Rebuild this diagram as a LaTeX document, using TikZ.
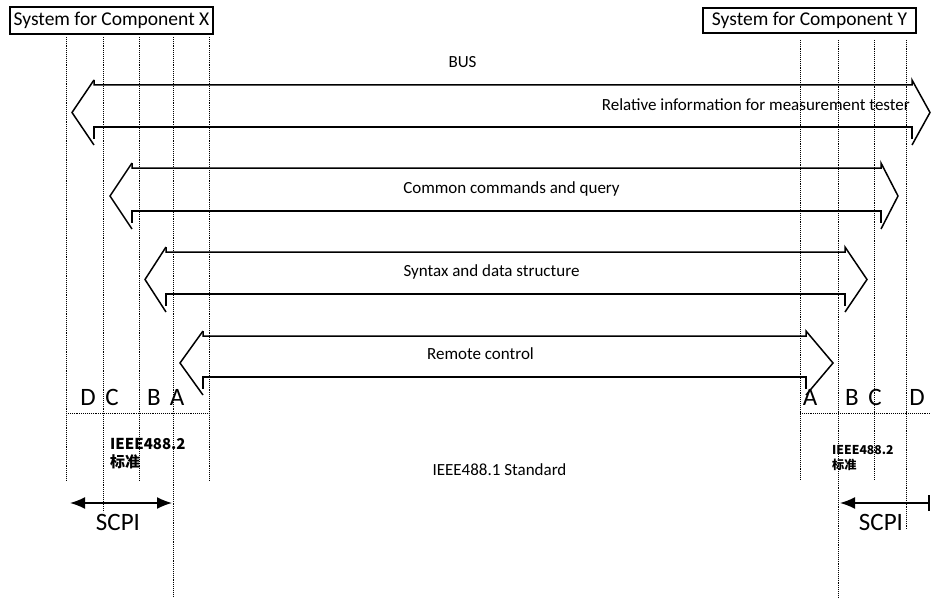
\documentclass[tikz,border=0pt]{standalone}
\usepackage{fontspec}
\setmainfont{Carlito}
\newfontfamily\cjk{Noto Sans CJK SC}
\usetikzlibrary{arrows.meta}
\newcommand\blockarrow[6]{% L R yt yb xl xr
  \pgfmathsetmacro\baHt{#3-5}\pgfmathsetmacro\baHb{#4+18}\pgfmathsetmacro\baTy{(#3-5+#4+18)/2}\pgfmathsetmacro\baVb{#4+12}
  \draw[barrow] (#1,\baHt) -- (#1,#3) -- (#2,#3) -- (#2,\baHt) -- (#6,\baTy) -- (#2,\baHb);
  \draw[barrow] (#2,\baVb) -- (#2,#4) -- (#1,#4) -- (#1,\baVb);
  \draw[barrow] (#1,\baHb) -- (#5,\baTy) -- (#1,\baHt);
}
\begin{document}
\begin{tikzpicture}[x=1pt,y=-1pt,
  guide/.style={densely dotted, line width=0.9pt},
  barrow/.style={line width=1.5pt, line join=miter},
  lbl/.style={font=\fontsize{17}{20}\selectfont, inner sep=0, anchor=base},
  letter/.style={font=\fontsize{25}{28}\selectfont, inner sep=0, anchor=base},
  title/.style={draw, line width=1.5pt, inner sep=0, font=\fontsize{19.5}{22}\selectfont},
  stdl/.style={font=\cjk\bfseries\fontsize{15}{18}\selectfont, inner sep=0, align=left, anchor=north west},
  stdr/.style={font=\cjk\bfseries\fontsize{12.2}{15}\selectfont, inner sep=0, align=left, anchor=north west},
  scpi/.style={line width=1.6pt}]
\useasboundingbox (0,0) rectangle (931,599);
% title boxes
\node[title, minimum width=203pt, minimum height=27pt] (tx) at (111.5,20.5) {System for Component X};
\node[title, minimum width=213pt, minimum height=25pt] (ty) at (809.5,20.5) {System for Component Y};
% guide lines left
\draw[guide] (66,37) -- (66,480);
\draw[guide] (103,37) -- (103,512);
\draw[guide] (139,37) -- (139,480);
\draw[guide] (173,37) -- (173,597);
\draw[guide] (209,37) -- (209,480);
\draw[guide] (66,413) -- (209,413);
% guide lines right
\draw[guide] (800,40) -- (800,480);
\draw[guide] (838,40) -- (838,597);
\draw[guide] (874,40) -- (874,480);
\draw[guide] (906,40) -- (906,530);
\draw[guide] (800,413) -- (931,413);
% block arrows
\blockarrow{94}{912}{85}{127}{72}{930}
\blockarrow{132}{881}{168}{211}{110}{898}
\blockarrow{166}{845}{252}{294}{145}{867}
\blockarrow{203}{806}{336}{377}{180}{833}
% labels
\node[lbl] (bus) at (462.5,68) {BUS};
\node[lbl, anchor=base east] (rel) at (910,111) {Relative information for measurement tester};
\node[lbl] (ccq) at (511.5,193) {Common commands and query};
\node[lbl] (syn) at (491.5,276) {Syntax and data structure};
\node[lbl] (rc) at (480.5,359) {Remote control};
% letters
\node[letter] (ld) at (88,405) {D};
\node[letter] (lc) at (112,405) {C};
\node[letter] (lb) at (154,405) {B};
\node[letter] (la) at (177,405) {A};
\node[letter] (ra) at (810,405) {A};
\node[letter] (rb) at (852,405) {B};
\node[letter] (rcl) at (875,405) {C};
\node[letter] (rd) at (917,405) {D};
% standards
\node[stdl] (s2l) at (110,438) {IEEE488.2\\标准};
\node[stdr] (s2r) at (832,445) {IEEE488.2\\标准};
\node[lbl] (s1) at (499.5,475) {IEEE488.1 Standard};
% SCPI
\coordinate (sl1) at (70,503);
\coordinate (sl2) at (172,503);
\coordinate (sr1) at (840,503);
\coordinate (sr2) at (930,503);
\draw[scpi, {Latex[length=15pt,width=12pt]}-{Latex[length=15pt,width=12pt]}] (sl1) -- (sl2);
\draw[scpi, {Latex[length=15pt,width=12pt]}-{Bar[width=16pt]}] (sr1) -- (sr2);
\node[letter] (scl) at (118,530) {SCPI};
\node[letter] (scr) at (881,530) {SCPI};
\end{tikzpicture}
\end{document}
